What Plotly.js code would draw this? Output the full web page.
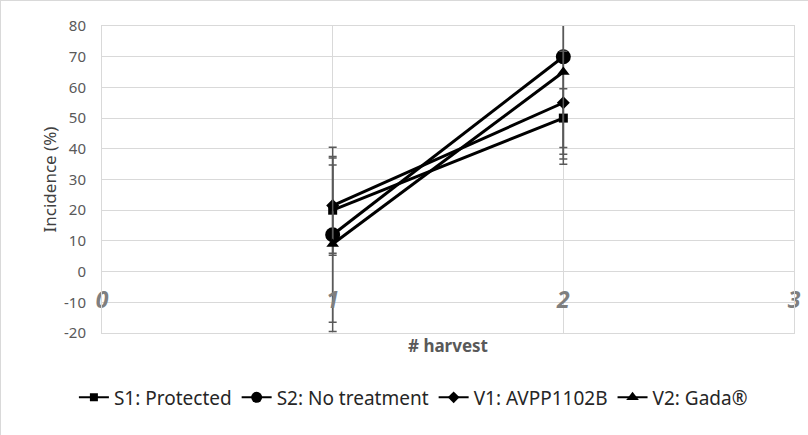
<!DOCTYPE html>
<html>
<head>
<meta charset="utf-8">
<script src="https://cdn.plot.ly/plotly-3.0.1.min.js"></script>
<style>
  html, body { margin: 0; padding: 0; background: #fff; }
  #chart { width: 808px; height: 435px; box-sizing: border-box; border: 1px solid #d9d9d9; }
</style>
</head>
<body>
<div id="chart"></div>
<script>
// Data
const harvest = [1, 2];
const s1Values = [20, 50];
const s2Values = [12, 70];
const v1Values = [21.5, 55];
const v2Values = [9, 65];
const s1Errors = [14.7, 9.6];
const s2Errors = [28.5, 35];
const v1Errors = [15.5, 16.8];
const v2Errors = [28.5, 28.3];
const seriesNames = ['S1: Protected', 'S2: No treatment', 'V1: AVPP1102B', 'V2: Gada®'];
const xTickValues = [0, 1, 2, 3];
const xTickLabels = ['0', '1', '2', '3'];
const xTickLevel = [-10, -10, -10, -10];
const yTickValues = [-20, -10, 0, 10, 20, 30, 40, 50, 60, 70, 80];
const yTickLabels = ['-20', '-10', '0', '10', '20', '30', '40', '50', '60', '70', '80'];

const errStyle = (arr) => ({ type: 'data', array: arr, visible: true, color: '#595959', thickness: 1.5, width: 4 });

function series(name, y, err, symbol, size) {
  return {
    type: 'scatter', mode: 'lines+markers', name: name, showlegend: false,
    x: harvest, y: y,
    line: { color: '#000000', width: 3 },
    marker: { color: '#000000', symbol: symbol, size: size },
    error_y: errStyle(err),
    cliponaxis: true
  };
}
function legendEntry(name, symbol, size) {
  return {
    type: 'scatter', mode: 'lines+markers', name: name, showlegend: true,
    x: [null], y: [null], hoverinfo: 'skip',
    line: { color: '#000000', width: 2 },
    marker: { color: '#000000', symbol: symbol, size: size }
  };
}

const traces = [
  series(seriesNames[0], s1Values, s1Errors, 'square', 9),
  series(seriesNames[1], s2Values, s2Errors, 'circle', 15),
  series(seriesNames[2], v1Values, v1Errors, 'diamond', 10),
  series(seriesNames[3], v2Values, v2Errors, 'triangle-up', 11),
  legendEntry(seriesNames[0], 'square', 8),
  legendEntry(seriesNames[1], 'circle', 11),
  legendEntry(seriesNames[2], 'diamond', 9),
  legendEntry(seriesNames[3], 'triangle-up', 11),
  {
    type: 'scatter', mode: 'text', x: xTickValues, y: xTickLevel, text: xTickLabels,
    textfont: { family: 'Open Sans, sans-serif', size: 23, color: '#7f7f7f', style: 'italic', weight: 'bold' },
    textposition: 'middle center', showlegend: false, hoverinfo: 'skip', cliponaxis: false
  }
];

const layout = {
  width: 808, height: 435,
  margin: { l: 101, r: 15, t: 25, b: 103 },
  paper_bgcolor: '#ffffff', plot_bgcolor: '#ffffff',
  font: { family: 'Noto Sans, sans-serif', color: '#595959' },
  showlegend: true,
  legend: {
    orientation: 'h', x: 0.45, xanchor: 'center', y: -0.21, yanchor: 'middle',
    font: { size: 19, color: '#262626' }, tracegroupgap: 0
  },
  xaxis: {
    range: [0, 3], dtick: 1, tick0: 0, showticklabels: false,
    showgrid: true, gridcolor: '#d9d9d9', gridwidth: 1,
    zeroline: false, showline: true, linecolor: '#d9d9d9', mirror: true,
    title: { text: '# harvest', font: { size: 17, color: '#595959', weight: 'bold' }, standoff: 7 }
  },
  yaxis: {
    range: [-20, 80], tickmode: 'array', tickvals: yTickValues, ticktext: yTickLabels,
    showgrid: true, gridcolor: '#d9d9d9', gridwidth: 1,
    zeroline: false, showline: true, linecolor: '#d9d9d9', mirror: true,
    ticks: '', ticklabelstandoff: 12,
    tickfont: { size: 15, color: '#595959' },
    title: { text: 'Incidence (%)', font: { size: 17, color: '#404040' }, standoff: 3 }
  }
};

Plotly.newPlot('chart', traces, layout, { displayModeBar: false, staticPlot: true });
</script>
</body>
</html>
